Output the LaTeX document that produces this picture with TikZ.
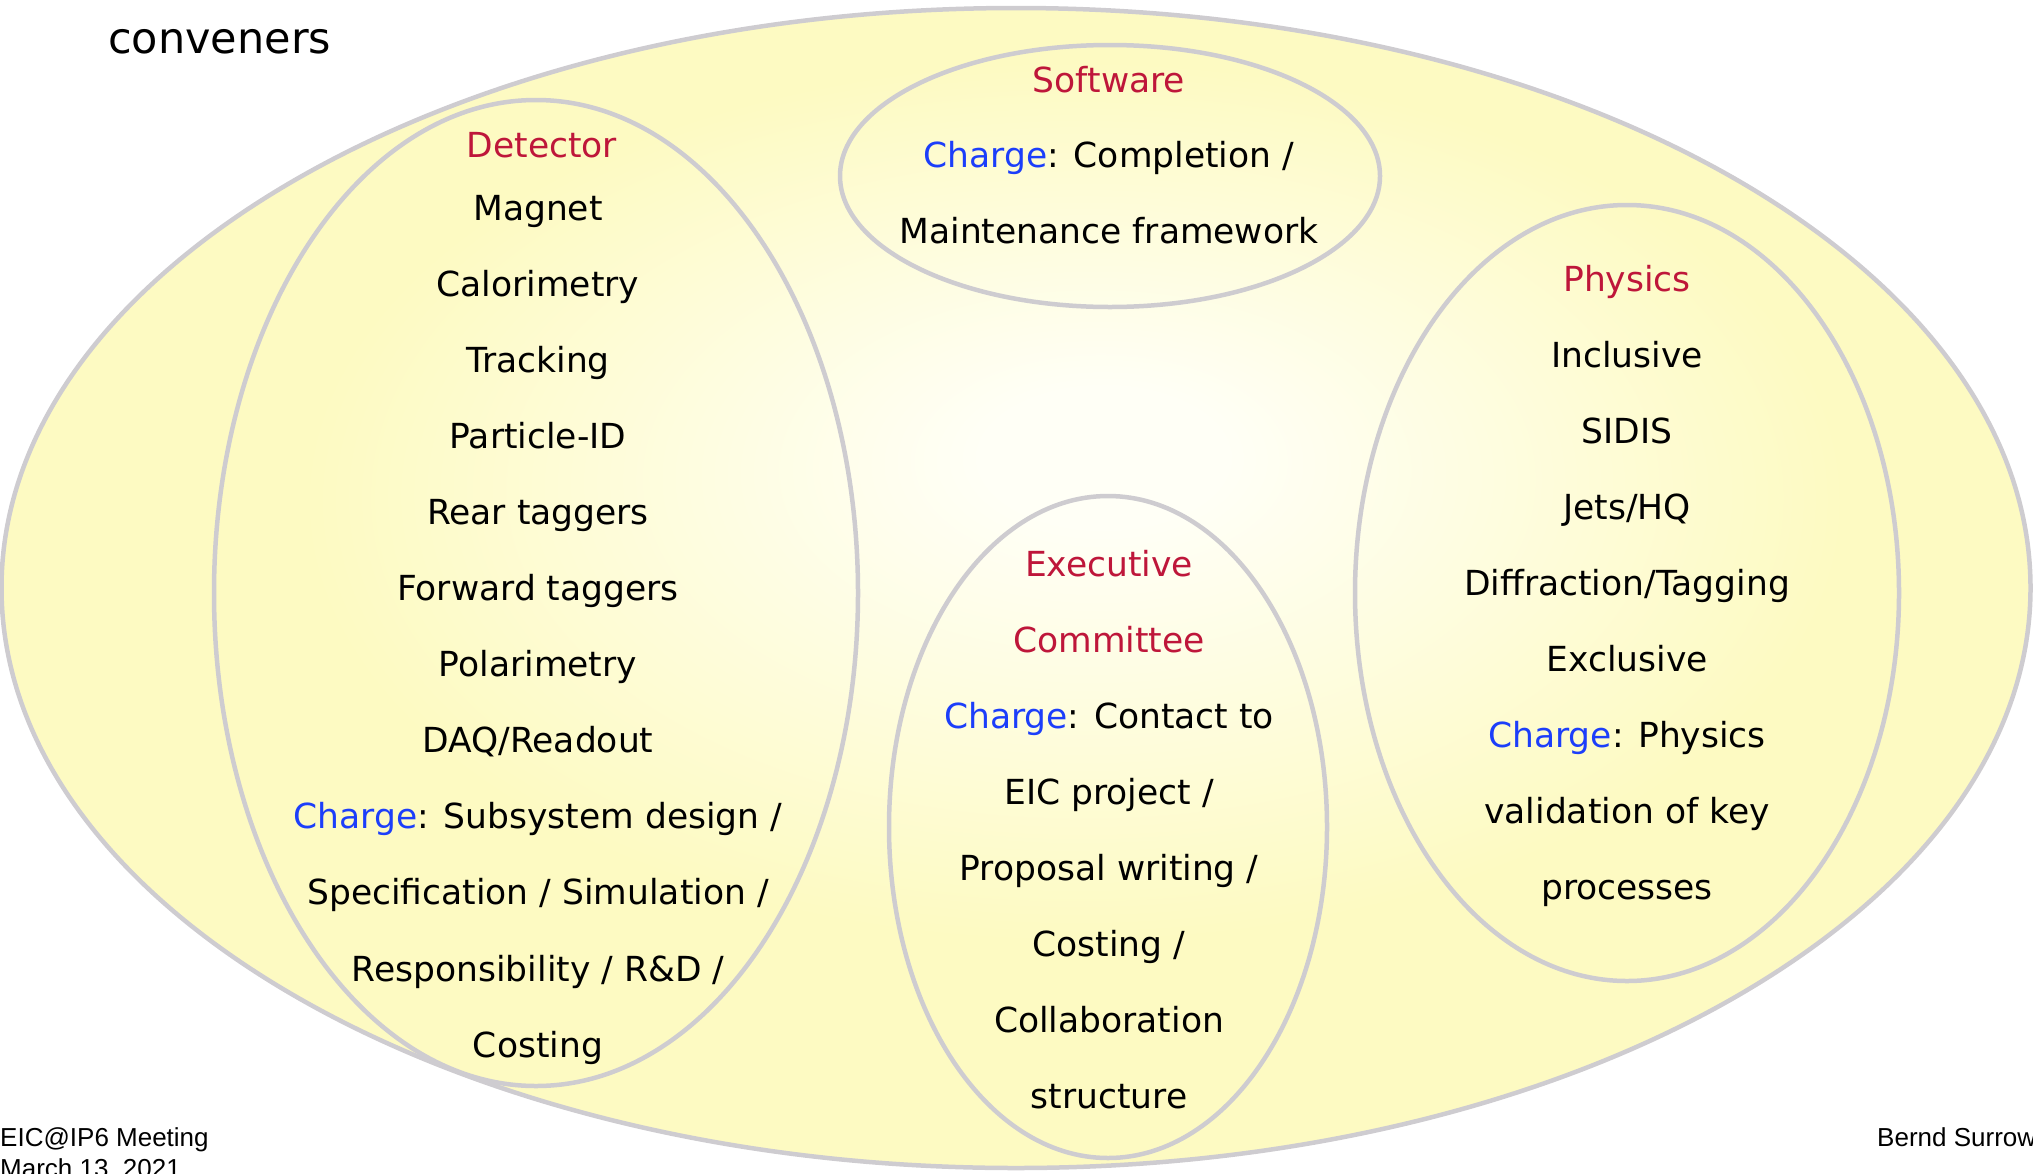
\documentclass[tikz,border=0pt]{standalone}
\usepackage{fontspec}
\setmainfont{DejaVu Sans}
\newfontfamily\arialfont{Liberation Sans}
\usetikzlibrary{shapes.geometric}
\definecolor{ylw}{RGB}{253,250,194}
\definecolor{hl}{RGB}{255,255,246}
\definecolor{rimgray}{RGB}{206,204,208}
\definecolor{headred}{RGB}{190,22,58}
\definecolor{chgblue}{RGB}{28,62,250}
\pgfdeclareradialshading{glow}{\pgfpoint{2.3bp}{6bp}}{color(0bp)=(hl); color(3bp)=(hl); color(19bp)=(ylw); color(50bp)=(ylw)}
\newcommand{\chg}{\textcolor{chgblue}{Charge}}
\begin{document}
\begin{tikzpicture}[x=1pt,y=-1pt,
  ring/.style={ellipse, draw=rimgray, line width=4.5pt, inner sep=0pt},
  txt/.style={anchor=base, font=\fontsize{34.5}{40}\selectfont, text=black, inner sep=0pt},
  head/.style={txt, text=headred},
  foot/.style={anchor=base west, font=\arialfont\fontsize{26}{31}\selectfont, inner sep=0pt}]
\useasboundingbox (0,0) rectangle (2033,1173);
% ellipses
\node[ring, minimum width=2029pt, minimum height=1160pt, shade, shading=glow] (outer) at (1016,588) {};
\node[ring, minimum width=644pt, minimum height=986pt] (detector) at (536,593) {};
\node[ring, minimum width=540pt, minimum height=262pt] (software) at (1110,176) {};
\node[ring, minimum width=438pt, minimum height=662pt] (executive) at (1108,827) {};
\node[ring, minimum width=544pt, minimum height=776pt] (physics) at (1627,593) {};
% title
\node[anchor=base west, font=\fontsize{43}{50}\selectfont, inner sep=0pt] (title) at (108,53) {conveners};
% detector
\node[head] (dethead) at (542,157) {Detector};
\foreach \t [count=\i from 0] in {Magnet,Calorimetry,Tracking,Particle-ID,Rear taggers,Forward taggers,Polarimetry,DAQ/Readout,{\chg: Subsystem design /},{Specification / Simulation /},{Responsibility / R\&D /},Costing}
  \node[txt] (det\i) at (538,{220+76.1*\i}) {\t};
% software
\node[head] (swhead) at (1109,92) {Software};
\node[txt] (sw1) at (1109,167) {\chg: Completion /};
\node[txt] (sw2) at (1109,243) {Maintenance framework};
% executive
\node[head] (exhead1) at (1109,576) {Executive};
\node[head] (exhead2) at (1109,652) {Committee};
\foreach \t [count=\i from 0] in {{\chg: Contact to},{EIC project /},{Proposal writing /},{Costing /},Collaboration,structure}
  \node[txt] (ex\i) at (1109,{728+76.1*\i}) {\t};
% physics
\node[head] (phhead) at (1627,291) {Physics};
\foreach \t [count=\i from 0] in {Inclusive,SIDIS,Jets/HQ,Diffraction/Tagging,Exclusive,{\chg: Physics},{validation of key},processes}
  \node[txt] (ph\i) at (1627,{367+76.1*\i}) {\t};
% footers
\node[foot] (meet) at (0,1146) {EIC@IP6 Meeting};
\node[foot] (date) at (0,1177) {March 13, 2021};
\node[foot] (author) at (1877,1146) {Bernd Surrow};
\end{tikzpicture}
\end{document}
